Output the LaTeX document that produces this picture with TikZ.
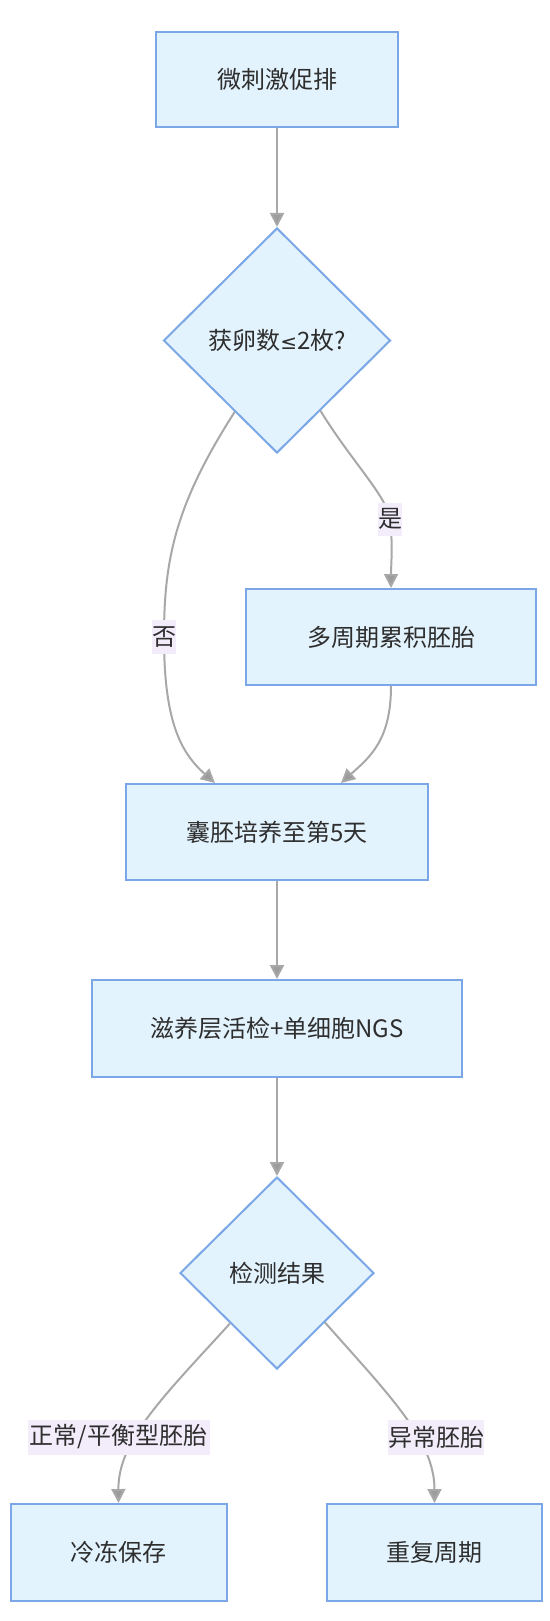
\documentclass[tikz,border=0pt]{standalone}
\usepackage{fontspec}
\setmainfont{Noto Sans CJK SC}
\newfontfamily\symfont{DejaVu Sans}
\usetikzlibrary{calc,arrows.meta,shapes.geometric}
\definecolor{boxfill}{HTML}{E3F3FD}
\definecolor{boxline}{HTML}{7BA7E6}
\definecolor{edgecol}{HTML}{A8A8A8}
\definecolor{tipcol}{HTML}{9C9C9C}
\definecolor{lblfill}{HTML}{F2ECFB}
\definecolor{txtcol}{HTML}{2E2E2E}
\tikzset{
  stepbox/.style={draw=boxline, fill=boxfill, line width=2pt, inner sep=0pt, text=txtcol,
    font=\fontsize{24pt}{28pt}\selectfont},
  askbox/.style={stepbox, diamond, aspect=1},
  flow/.style={draw=edgecol, line width=2pt, -{Triangle[length=14pt,width=14pt,fill=tipcol]}},
  tag/.style={fill=lblfill, inner sep=0pt, text=txtcol, font=\fontsize{24pt}{28pt}\selectfont}
}
\begin{document}
\begin{tikzpicture}[x=1pt, y=-1pt]
			%%%%% START %%%%%
			\useasboundingbox (0, 0) rectangle (549, 1621);
			
			\node[stepbox, minimum width=242pt, minimum height=95pt] (stim) at (277, 79.5) {微刺激促排};
			\node[askbox, minimum width=227pt, minimum height=225pt] (ovum) at (277, 340.5) {获卵数{\symfont\fontsize{20pt}{24pt}\selectfont ≤}2枚?};
			\node[stepbox, minimum width=290pt, minimum height=96pt] (accum) at (391, 637) {多周期累积胚胎};
			\node[stepbox, minimum width=302pt, minimum height=96pt] (blast) at (277, 832) {囊胚培养至第5天};
			\node[stepbox, minimum width=370pt, minimum height=97pt] (biopsy) at (277, 1028.5) {滋养层活检+单细胞NGS};
			\node[askbox, minimum width=194pt, minimum height=192pt] (result) at (277, 1273) {检测结果};
			\node[stepbox, minimum width=216pt, minimum height=97pt] (freeze) at (118.5, 1552.5) {冷冻保存};
			\node[stepbox, minimum width=215pt, minimum height=97pt] (again) at (434.5, 1552.5) {重复周期};
			
			% straight links
			\draw[flow] (stim.south) -- (ovum.north);
			\draw[flow] (blast.south) -- (biopsy.north);
			\draw[flow] (biopsy.south) -- (result.north);
			
			% branches of the first question
			\coordinate (yesat) at (390, 519);
			\coordinate (noat) at (164, 637);
			\draw[flow] ($(ovum.south)!0.38!(ovum.east)$) .. controls (352, 462) and (386, 495) .. (yesat)
			  .. controls (393, 545) and (391, 565) .. (accum.north);
			\draw[flow] ($(ovum.south)!0.37!(ovum.west)$) .. controls (175, 505) and (164, 560) .. (noat)
			  .. controls (164, 720) and (180, 752) .. ($(blast.north)+(-62, 0)$);
			\draw[flow] (accum.south) .. controls (391, 740) and (370, 757) .. ($(blast.north)+(64, 0)$);
			\node[tag, minimum width=24pt, minimum height=33pt] (yes) at (yesat) {是};
			\node[tag, minimum width=24pt, minimum height=34pt] (no) at (noat) {否};
			
			% branches of the test result
			\draw[flow] ($(result.south)!0.48!(result.west)$) .. controls (165, 1395) and (118, 1440) .. (freeze.north);
			\draw[flow] ($(result.south)!0.49!(result.east)$) .. controls (389, 1395) and (434.5, 1440) .. (again.north);
			\node[tag, minimum width=182pt, minimum height=35pt] (normal) at (118.5, 1437) {正常/平衡型胚胎};
			\node[tag, minimum width=96pt, minimum height=35pt] (abnormal) at (436, 1437) {异常胚胎};
			%%%%% END %%%%%
\end{tikzpicture}
\end{document}
